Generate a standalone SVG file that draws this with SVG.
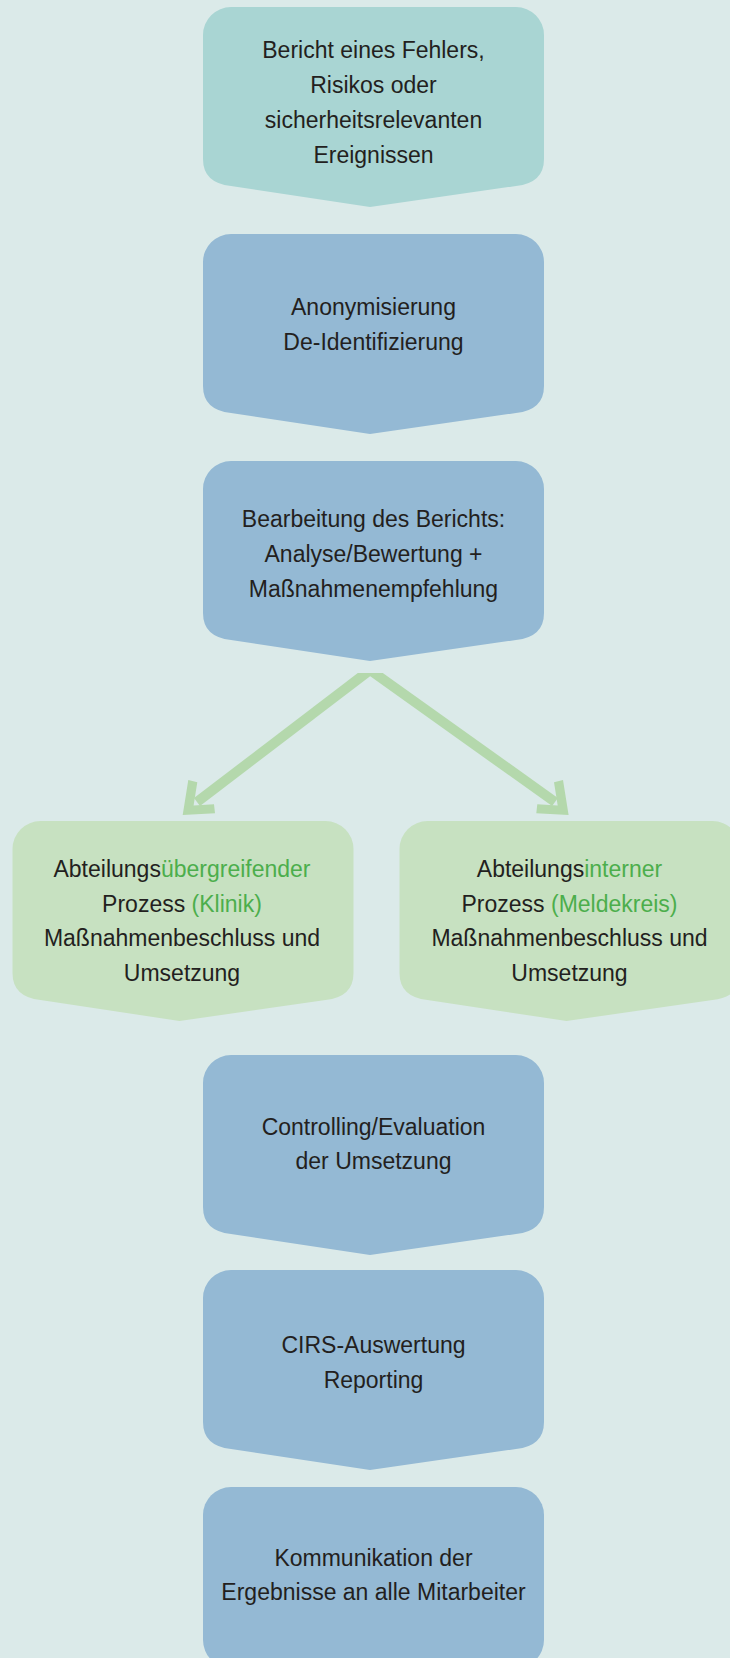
<svg xmlns="http://www.w3.org/2000/svg" width="730" height="1658" viewBox="0 0 730 1658">
<style>
.t{font-family:"Liberation Sans",Arial,sans-serif;font-size:23px;fill:#231f20;text-anchor:middle}
.g{fill:#4cae4c}
.teal{fill:#a9d5d3}
.blue{fill:#94b9d4}
.green{fill:#c7e1c1}
.conn{stroke:#b4d8ac;stroke-width:10;fill:none}
.head{fill:#b4d8ac}
</style>
<defs>
<path id="box" d="M28,0 H313 A28 28 0 0 1 341,28 V152 Q341,176 313,179 L167,200 L28,179 Q0,176 0,152 V28 A28 28 0 0 1 28,0 Z"/>
<clipPath id="below"><rect x="0" y="673" width="730" height="200"/></clipPath>
</defs>
<rect width="730" height="1658" fill="#dbeae9"/>

<g id="n1">
<use href="#box" class="teal" x="203" y="7"/>
<text class="t" x="373.5" y="58">Bericht eines Fehlers,</text>
<text class="t" x="373.5" y="93">Risikos oder</text>
<text class="t" x="373.5" y="128">sicherheitsrelevanten</text>
<text class="t" x="373.5" y="163">Ereignissen</text>
</g>

<g id="n2">
<use href="#box" class="blue" x="203" y="234"/>
<text class="t" x="373.5" y="315">Anonymisierung</text>
<text class="t" x="373.5" y="350">De-Identifizierung</text>
</g>

<g id="n3">
<use href="#box" class="blue" x="203" y="461"/>
<text class="t" x="373.5" y="527">Bearbeitung des Berichts:</text>
<text class="t" x="373.5" y="562">Analyse/Bewertung +</text>
<text class="t" x="373.5" y="597">Maßnahmenempfehlung</text>
</g>

<g id="connectors">
<g clip-path="url(#below)">
<line class="conn" x1="370" y1="670" x2="197" y2="802"/>
<line class="conn" x1="370" y1="670" x2="555" y2="802"/>
</g>
<polygon class="head" points="182.7,815 188.3,780 197.3,782.3 193.6,805.4 214,804.3 215,813.3"/>
<polygon class="head" points="568.6,815 563,780 554,782.3 557.7,805.4 537.3,804.3 536.3,813.3"/>
</g>

<g id="n4">
<use href="#box" class="green" x="12.5" y="821"/>
<text class="t" x="182" y="877">Abteilungs<tspan class="g">übergreifender</tspan></text>
<text class="t" x="182" y="911.5">Prozess <tspan class="g">(Klinik)</tspan></text>
<text class="t" x="182" y="946">Maßnahmenbeschluss und</text>
<text class="t" x="182" y="980.5">Umsetzung</text>
</g>

<g id="n5">
<use href="#box" class="green" x="399.5" y="821"/>
<text class="t" x="569.5" y="877">Abteilungs<tspan class="g">interner</tspan></text>
<text class="t" x="569.5" y="911.5">Prozess <tspan class="g">(Meldekreis)</tspan></text>
<text class="t" x="569.5" y="946">Maßnahmenbeschluss und</text>
<text class="t" x="569.5" y="980.5">Umsetzung</text>
</g>

<g id="n6">
<use href="#box" class="blue" x="203" y="1055"/>
<text class="t" x="373.5" y="1135">Controlling/Evaluation</text>
<text class="t" x="373.5" y="1169">der Umsetzung</text>
</g>

<g id="n7">
<use href="#box" class="blue" x="203" y="1270"/>
<text class="t" x="373.5" y="1353">CIRS-Auswertung</text>
<text class="t" x="373.5" y="1388">Reporting</text>
</g>

<g id="n8">
<rect class="blue" x="203" y="1487" width="341" height="181" rx="28" ry="28"/>
<text class="t" x="373.5" y="1566">Kommunikation der</text>
<text class="t" x="373.5" y="1600">Ergebnisse an alle Mitarbeiter</text>
</g>
</svg>
